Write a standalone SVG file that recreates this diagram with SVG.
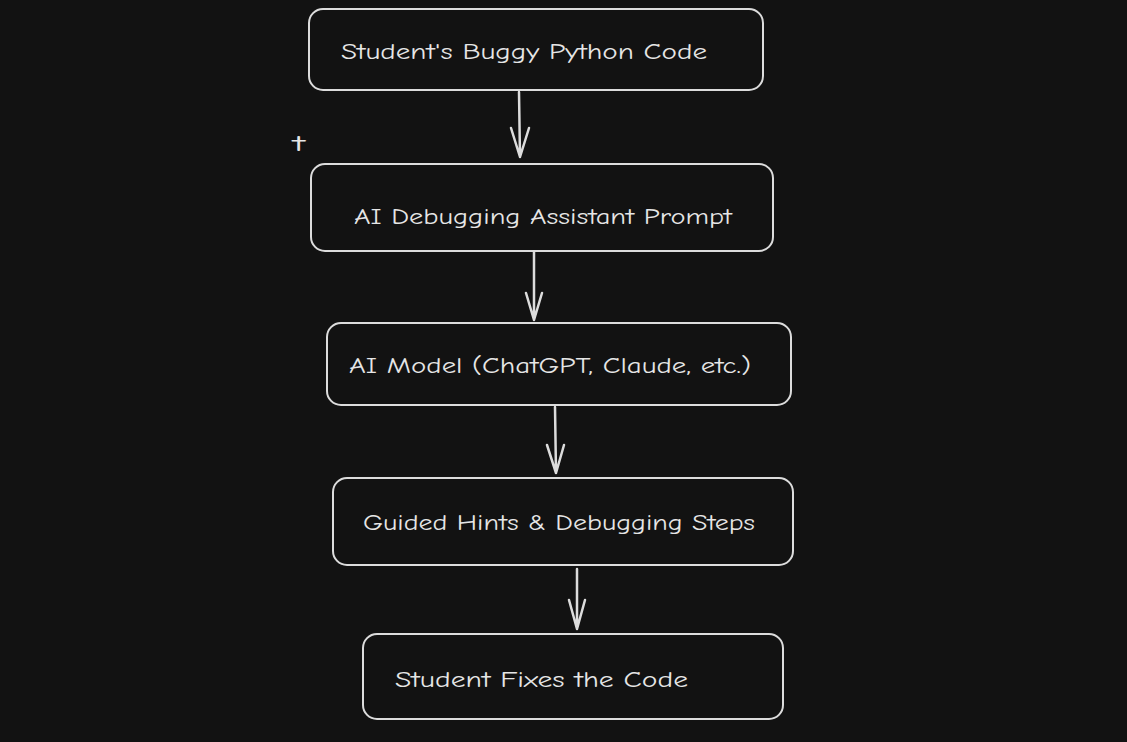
<svg xmlns="http://www.w3.org/2000/svg" width="1127" height="742" viewBox="0 0 1127 742">
<defs>
<style>
.box{fill:#121212;stroke:#dcdcdc;stroke-width:2}
.lbl{fill:#e6e6e6;font-family:"Comic Neue","Liberation Sans",sans-serif;font-size:23px;dominant-baseline:central}
.edge{stroke:#dcdcdc;stroke-width:2.5;fill:none;stroke-linecap:round;stroke-linejoin:round}
</style>
</defs>
<rect width="1127" height="742" fill="#121212"/>
<g id="n1"><rect class="box" x="309" y="9" width="454" height="81" rx="14"/><text class="lbl" x="341" y="51" textLength="366" lengthAdjust="spacingAndGlyphs">Student's Buggy Python Code</text></g>
<g id="n2"><rect class="box" x="311" y="164" width="462" height="87" rx="14"/><text class="lbl" x="354" y="216" textLength="378" lengthAdjust="spacingAndGlyphs">AI Debugging Assistant Prompt</text></g>
<g id="n3"><rect class="box" x="327" y="323" width="464" height="82" rx="14"/><text class="lbl" x="349" y="365" textLength="402" lengthAdjust="spacingAndGlyphs">AI Model (ChatGPT, Claude, etc.)</text></g>
<g id="n4"><rect class="box" x="333" y="478" width="460" height="87" rx="14"/><text class="lbl" x="363" y="522" textLength="392" lengthAdjust="spacingAndGlyphs">Guided Hints &amp; Debugging Steps</text></g>
<g id="n5"><rect class="box" x="363" y="634" width="420" height="85" rx="14"/><text class="lbl" x="395" y="679" textLength="293" lengthAdjust="spacingAndGlyphs">Student Fixes the Code</text></g>
<g id="t"><text class="lbl" x="293" y="143" textLength="12" lengthAdjust="spacingAndGlyphs">t</text></g>
<g id="edges">
<path class="edge" d="M519 92 L520 157 M511 128 L520 157 L529 128"/>
<path class="edge" d="M534 252 L534 320 M526 293 L534 320 L542 293"/>
<path class="edge" d="M555 407 L556 473 M547 445 L556 473 L564 445"/>
<path class="edge" d="M577 569 L577 629 M569 600 L577 629 L585 600"/>
</g>
</svg>
